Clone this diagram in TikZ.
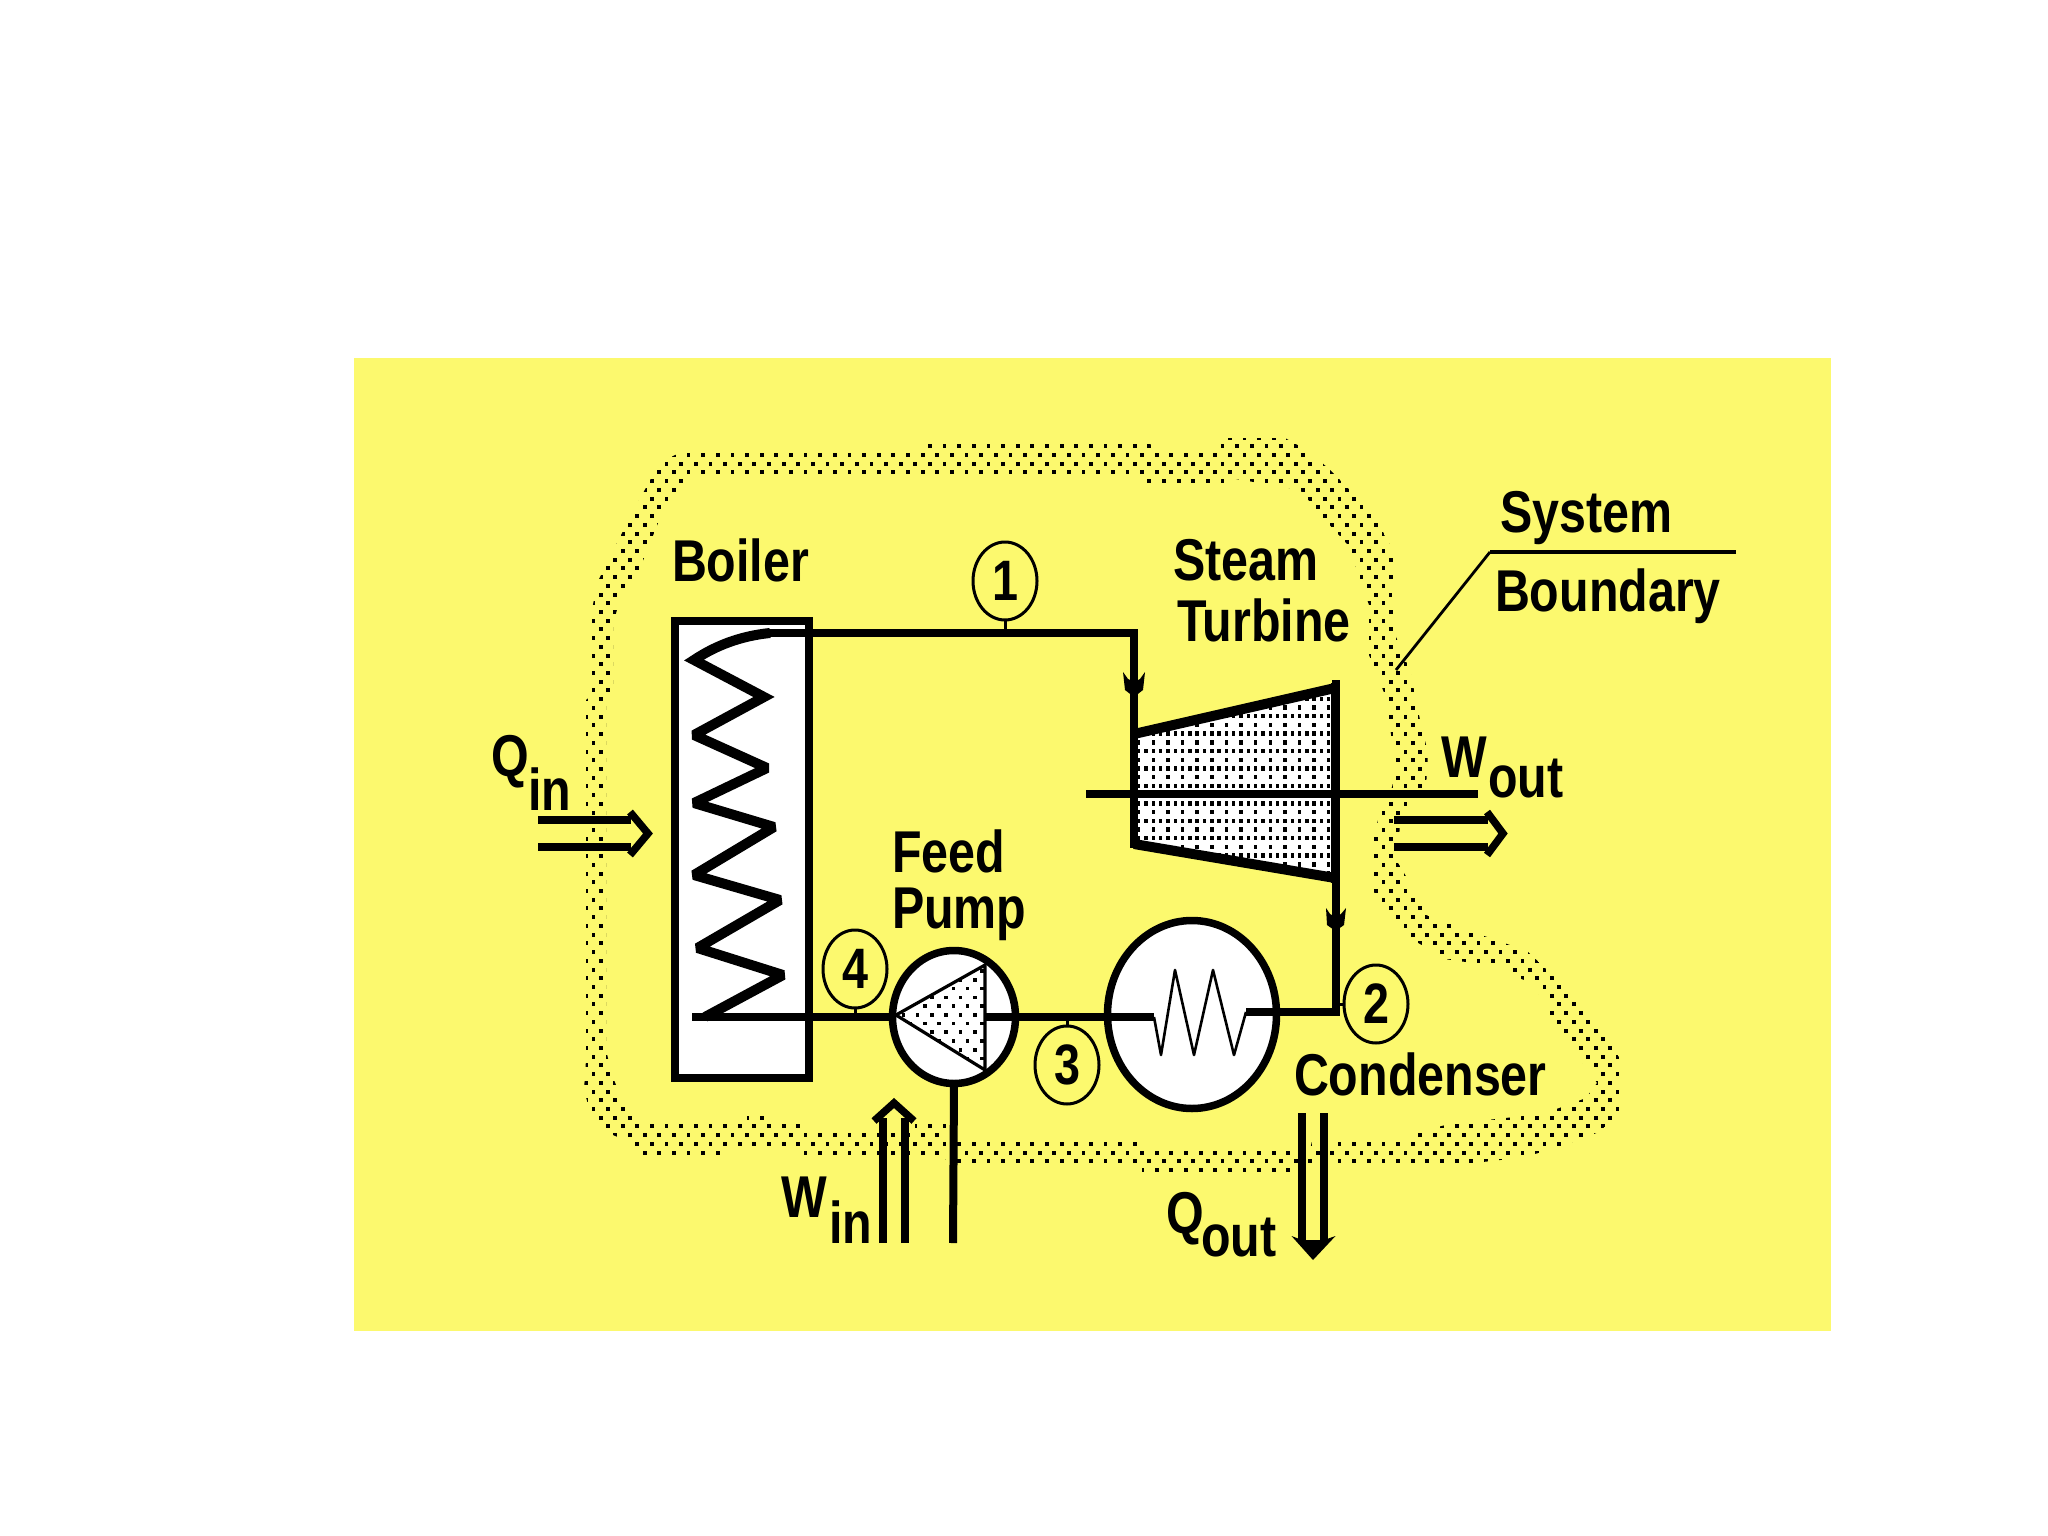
\documentclass[tikz,border=0pt]{standalone}
\usepackage{fontspec}
\usetikzlibrary{shapes.geometric}
\newfontfamily\labfont{Liberation Sans}[FakeStretch=0.82]
\definecolor{bgyellow}{HTML}{FCF96E}
\tikzset{
  lab/.style={inner sep=0pt,outer sep=0pt,anchor=base west,font=\fontsize{59}{59}\selectfont\labfont\bfseries},
  statept/.style={draw=black,line width=3pt,ellipse,minimum width=64pt,minimum height=78pt,inner sep=0pt,outer sep=0pt,font=\fontsize{57}{57}\selectfont\labfont\bfseries},
  pipe/.style={line width=8pt,line join=miter,line cap=butt},
  thinline/.style={line width=3pt},
  hollow/.style={line width=7.5pt,line join=miter},
  unit/.style={draw=black,fill=white,line width=7.5pt,ellipse,inner sep=0pt,outer sep=0pt},
  tip/.style={fill=black,draw=none}
}
\begin{document}
\begin{tikzpicture}[x=1pt,y=-1pt]
\useasboundingbox (0,0) rectangle (2048,1536);
\fill[white] (0,0) rectangle (2048,1536);
\fill[bgyellow] (354,358) rectangle (1831,1331);

% --- dotted system boundary: staggered dot lattice clipped to a ring
\begin{scope}
\clip
 (586,1060)--(586,700)--(592,695)--(592,610)--(597,583)--(620,537)--(642,495)--(660,462)--(684,451)
 --(925,451)--(928,443)--(1150,443)--(1152,448)--(1218,448)--(1220,438)--(1285,438)--(1310,452)--(1330,470)
 --(1373,513)--(1394,553)--(1392,603)--(1396,637)--(1410,670)--(1420,720)--(1428,753)--(1426,787)--(1400,820)
 --(1398,863)--(1416,893)--(1426,915)--(1470,931)--(1527,951)--(1564,986)--(1596,1021)--(1621,1060)--(1621,1112)
 --(1599,1132)--(1575,1141)--(1555,1149)--(1518,1158)--(1438,1167)--(1312,1167)--(1312,1176)--(1142,1176)--(1142,1167)
 --(950,1167)--(945,1158)--(803,1158)--(803,1149)--(722,1149)--(722,1158)--(642,1158)--(635,1150)--(627,1141)--(606,1132)
 --(598,1124)--(591,1115)--(584,1090)--cycle
 % inner edge, reverse sense
 (606,1050)--(612,1075)--(620,1095)--(625,1106)--(635,1116)--(640,1124)--(747,1124)--(747,1114)--(766,1114)--(766,1124)
 --(806,1124)--(806,1133)--(915,1133)--(915,1124)--(950,1124)--(950,1141)--(1140,1141)--(1142,1150)--(1310,1150)--(1312,1141)
 --(1408,1141)--(1412,1133)--(1450,1124)--(1542,1114)--(1565,1106)--(1586,1098)--(1597,1083)--(1590,1072)--(1575,1053)
 --(1554,1027)--(1546,1002)--(1538,993)--(1533,983)--(1510,975)--(1502,967)--(1437,958)--(1427,948)--(1399,932)--(1385,913)
 --(1373,890)--(1371,850)--(1378,820)--(1392,787)--(1396,770)--(1389,720)--(1385,695)--(1369,655)--(1369,605)--(1357,570)
 --(1348,545)--(1325,520)--(1300,490)--(1283,487)--(1230,478)--(1228,483)--(1145,483)--(1135,478)--(688,478)--(664,508)
 --(650,543)--(636,578)--(620,598)--(613,625)--(613,695)--(606,705)--cycle;
\foreach \j in {0,...,84}{
  \foreach \i in {0,...,72}{
    \pgfmathsetmacro\px{571.6+14.63*\i+7.31*mod(\j,2)}
    \pgfmathsetmacro\py{437.6+8.72*\j}
    \fill[black] (\px-2,\py-2) rectangle ++(3.8,4);
  }
}
\end{scope}

% --- leader
\coordinate (leadA) at (1736,552);
\coordinate (leadB) at (1490,552);
\coordinate (leadC) at (1396,670);
\draw[line width=4pt] (leadA) -- (leadB);
\draw[line width=2.8pt] (leadB) -- (leadC);

% --- boiler
\node[draw=black,fill=white,line width=8pt,rectangle,inner sep=0pt,outer sep=0pt,minimum width=134.5pt,minimum height=457pt] (boiler) at (742.2,849.5) {};

% --- turbine
\coordinate (tTL) at (1134,734);
\coordinate (tTR) at (1335,688);
\coordinate (tBR) at (1335,878);
\coordinate (tBL) at (1134,844);
\fill[white] (tTL)--(tTR)--(tBR)--(tBL)--cycle;
\begin{scope}
\clip (tTL)--(tTR)--(tBR)--(tBL)--cycle;
\foreach \j in {0,...,23}{
  \pgfmathsetmacro\py{690.0+8.72*\j}
  \pgfmathtruncatemacro\dn{mod(\j,2)}
  \foreach \i in {0,...,28}{
    \pgfmathtruncatemacro\keep{(\dn==1 || mod(\i,2)==0) ? 1 : 0}
    \ifnum\keep=1
      \pgfmathsetmacro\px{1137+7.31*\i}
      \fill[black] (\px,\py-2.2) rectangle ++(3.4,4.4);
    \fi
  }
}
\end{scope}
\draw[line width=8pt] (1134,728) -- (1134,848);
\draw[line width=8pt] (1335,683) -- (1335,883);
\draw[line width=10pt,line cap=butt] (tTL) -- (tTR);
\draw[line width=10pt,line cap=butt] (tBL) -- (tBR);

% --- shaft
\coordinate (shaftL) at (1086,794);
\coordinate (shaftR) at (1478,794);
\draw[line width=8.5pt] (shaftL) -- (shaftR);

% --- pipes
\coordinate (p1a) at (763,633);
\coordinate (p1b) at (1134,633);
\coordinate (p1c) at (1134,733);
\coordinate (p2a) at (1335.5,680);
\coordinate (p2b) at (1335.5,1012);
\coordinate (cR) at (1246,1012);
\coordinate (cL) at (1154,1017);
\coordinate (pL) at (692,1017);
\coordinate (pR) at (985,1017);

% --- condenser
\node[unit,minimum width=169pt,minimum height=188pt] (condenser) at (1192,1014.5) {};
\draw[pipe] (p1a) -- (p1b) -- (p1c);
\draw[pipe] (p2a) -- (p2b) -- (cR);
\draw[line width=2.6pt,line join=round] (cL) -- (1161,1055) -- (1175,970) -- (1194,1055) -- (1213,970) -- (1234,1055) -- (cR);

% --- pump
\node[unit,minimum width=123pt,minimum height=133pt] (pump) at (954,1017) {};
\coordinate (triA) at (896,1015);
\coordinate (triB) at (985,965);
\coordinate (triC) at (985,1070);
\begin{scope}
\clip (triA)--(triB)--(triC)--cycle;
\foreach \j in {0,...,12}{
  \foreach \i in {0,...,7}{
    \pgfmathsetmacro\px{889+14.3*\i+7.15*mod(\j,2)}
    \pgfmathsetmacro\py{962.5+8.72*\j}
    \fill[black] (\px-1.8,\py-1.8) rectangle ++(3.6,3.6);
  }
}
\end{scope}
\draw[line width=3.2pt,line join=miter] (triA)--(triB)--(triC)--cycle;
\draw[pipe] (pL) -- (pump.west);
\draw[pipe] (pR) -- (cL);

% --- coil
\draw[line width=10pt,line join=miter,miter limit=2.2] (770,633) .. controls (740,636) and (715,646) .. (694,660) -- (764,697) -- (694,735) -- (767,768) -- (694,803) -- (774,827) -- (694,875) -- (780,900) -- (697.5,948) -- (783,975) -- (705,1017);

% --- feed line below pump
\coordinate (feedEnd) at (953,1243);
\draw[pipe] (pump.south) -- (feedEnd);

% --- small flow tips
\fill[tip] (1123,672)--(1128,679)--(1134,682)--(1140,679)--(1145,672)--(1143,690)--(1134,697)--(1125,690)--cycle;
\fill[tip] (1326,908)--(1330,914)--(1335.5,917)--(1341,914)--(1346,908)--(1344,925)--(1335.5,931)--(1327,925)--cycle;

% --- hollow arrows
\coordinate (qinA) at (538,820);
\coordinate (qinB) at (538,847);
\draw[hollow] (qinA) -- (631,820);
\draw[hollow] (qinB) -- (631,847);
\draw[hollow] (630,812) -- (648,833.5) -- (630,855);

\coordinate (woutA) at (1394,820);
\coordinate (woutB) at (1394,847);
\draw[hollow] (woutA) -- (1488,820);
\draw[hollow] (woutB) -- (1488,847);
\draw[hollow] (1487,812) -- (1503,833.5) -- (1487,855);

\coordinate (winA) at (883,1243);
\coordinate (winB) at (905,1243);
\draw[hollow] (winA) -- (883,1118);
\draw[hollow] (winB) -- (905,1118);
\draw[hollow] (874,1121) -- (894,1103) -- (914,1121);

\coordinate (qoutA) at (1302,1113);
\coordinate (qoutB) at (1324,1113);
\draw[hollow] (qoutA) -- (1302,1240);
\draw[hollow] (qoutB) -- (1324,1240);
\fill[tip] (1291.5,1236)--(1302,1240)--(1324,1240)--(1335.5,1236)--(1313,1260)--cycle;

% --- state points
\node[statept] (n1) at (1005,581) {1};
\node[statept] (n2) at (1376,1004) {2};
\node[statept] (n3) at (1067,1065) {3};
\node[statept] (n4) at (855,969) {4};
\draw[thinline] (n1.south) -- (n1.south |- p1a);
\draw[thinline] (n4.south) -- (n4.south |- pL);
\draw[thinline] (n3.north) -- (n3.north |- pL);
\draw[thinline] (n2.west) -- (n2.west -| p2b);

% --- labels
\node[lab] (tBoiler) at (672,581) {Boiler};
\node[lab] (tSteam) at (1173,580) {Steam};
\node[lab] (tTurbine) at (1177,641) {Turbine};
\node[lab] (tSystem) at (1500,532) {System};
\node[lab] (tBoundary) at (1495,611) {Boundary};
\node[lab] (tFeed) at (892,872) {Feed};
\node[lab] (tPump) at (892,928) {Pump};
\node[lab] (tCondenser) at (1294,1095) {Condenser};
\node[lab] (tW1) at (1441,777) {W};
\node[lab] (tOut1) at (1488,797) {out};
\node[lab] (tQ1) at (491,776) {Q};
\node[lab] (tIn1) at (528,810) {in};
\node[lab] (tW2) at (781,1217) {W};
\node[lab] (tIn2) at (829,1243) {in};
\node[lab] (tQ2) at (1166,1233) {Q};
\node[lab] (tOut2) at (1201,1256) {out};
\end{tikzpicture}
\end{document}
